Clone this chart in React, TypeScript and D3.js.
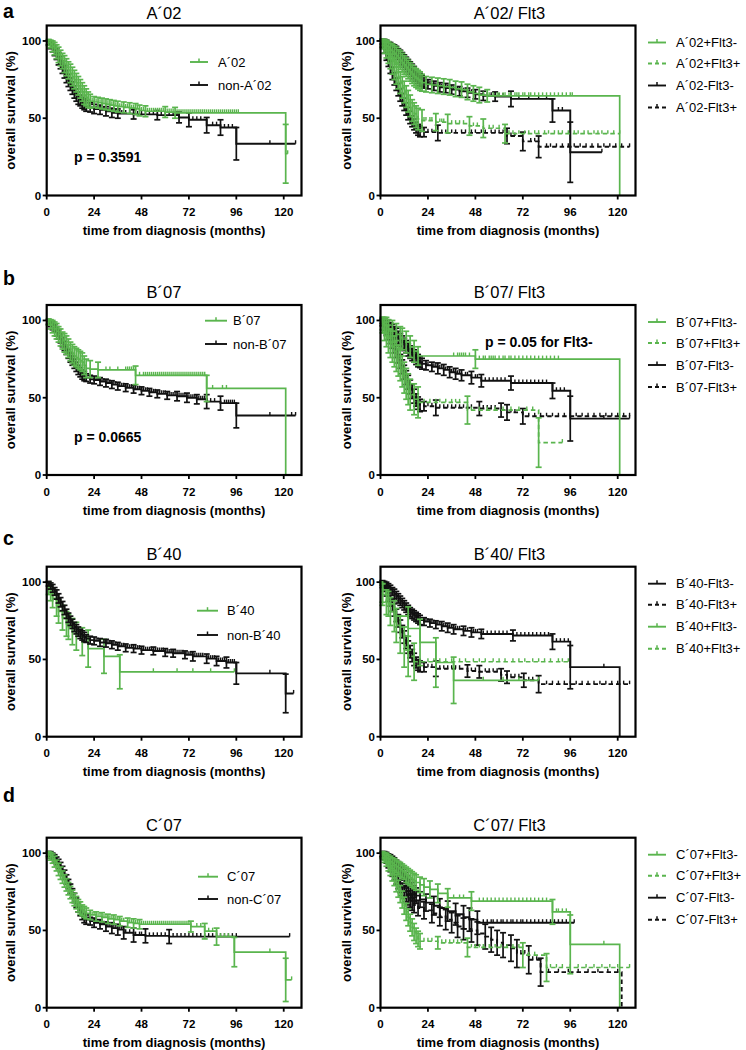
import React from 'react';
import * as d3 from 'd3';

const GREEN = '#5ab54e';
const BLACK = '#111111';
const FONT = '"Liberation Sans", Arial, Helvetica, sans-serif';

const Y_TICKS = [0, 50, 100];
const X_TICKS = [0, 24, 48, 72, 96, 120];

type Pt = [number, number, number]; // [month, survival %, error half-width]

// ---------- Panel a: A´02 ----------
const a02_pts: Pt[] = [[1,99,2],[2,98,2.5],[3,96.5,3.5],[4,95,4],[5,93,4.5],[6,91,5],[7,89,5],[8,87,5],[9,85,5.5],[10,83,5.5],[11,81,5.5],[12,79,6],[13,77,6],[14,75,6],[15,73,6],[16,71,6],[17,69,6],[18,67,6],[19,65,6],[20,63.5,5.5],[21,62,5],[22,61,4.5],[24,60.5,3.5],[26,60,3.5],[28,59.5,3.5],[30,59,3.5],[32,58.5,3.5],[34,58,3.5],[36,57.5,3.5],[39,57,3.5],[42,56.5,3.5],[45,56,3.5],[47,55,3.5],[50,54.5,3.5],[60,54,3.5],[65,53.5,3.5],[121,27,19]];
const a02_cens = [23,25,27,29,31,33,35,37,38,40,41,43,44,46,48,49,51,52,53,54,55,56,57,58,59,61,62,63,64,66,67,68,69,70,71,72,73,74,75,76,77,78,79,80,81,82,83,84,85,86,87,88,89,90,91,92,93,94,95,96,97,122];
const a02_end = 122;
const nonA02_pts: Pt[] = [[1,99,1.5],[2,97.5,2.5],[3,96,3],[4,94,3.5],[5,91.5,3.5],[6,88.5,4],[7,86,4],[8,83,4],[9,80,4],[10,77,4],[11,74.5,4],[12,72,4],[13,69.5,4],[14,67,4],[15,65,4],[16,63,4],[17,61.5,3.5],[18,60,3.5],[19,59,3.5],[20,58,3.5],[22,57,3],[24,56,3],[27,55.5,3],[30,54.5,3],[33,53.5,3],[36,53,3],[44,52.5,3],[56,52,3],[67,50.5,3.5],[72,49,4.5],[81,45.5,5],[88,44,5],[96,33.5,10.5]];
const nonA02_cens = [25,26,28,29,31,32,34,35,37,38,40,42,46,48,50,52,54,58,60,62,64,66,74,76,78,84,86,90,92,94,113,126];
const nonA02_end = 126;

const a02pF3n_pts: Pt[] = [[1,99,2],[2,98,3],[3,97,3.5],[4,95.5,4],[5,94,4.5],[6,93,5],[7,92,5],[8,90.5,5.5],[9,89,5.5],[10,87.5,6],[11,86,6],[12,84.5,6],[13,83,6],[14,81.5,6],[15,80,6],[16,78.5,6],[17,77,6],[18,76,6],[19,75,6],[20,74,6],[21,73,5.5],[23,72,5],[26,71.5,5],[29,71,5],[32,70.5,5],[35,70,5],[38,69,5],[41,68.5,5],[44,67,5],[47,66,5],[50,65,5],[54,64.5,4],[121,0,0]];
const a02pF3n_cens = [52,55,57,59,60,62,63,65,66,68,69,70,72,73,75,76,78,80,82,84,86,88,90,92,94,96,97];
const a02pF3n_end = 121;
const a02pF3p_pts: Pt[] = [[1,98,3],[2,96,4],[3,94,5],[4,91,5.5],[5,88,6],[6,85,6.5],[7,82,7],[8,79,7],[9,76,7],[10,73,7],[11,70,7],[12,67,7],[13,64,7],[14,61,7],[15,58,7],[16,55,7],[17,53,7],[18,51,7],[19,49.5,7],[21,48.5,7],[28,47.5,5.5],[34,46.5,6],[45,45,6],[52,43.5,6],[63,40,6]];
const a02pF3p_cens = [22,23,25,26,30,31,32,36,38,40,42,47,49,55,57,60,65,67,70,73,75,78,80,83,85,88,90,92,95,98,100,103,105,108,110,112,115,118,121];
const a02pF3p_end = 121;
const a02mF3n_pts: Pt[] = [[1,99.5,1.5],[2,99,2],[3,98,2.5],[4,97,2.5],[5,96,3],[6,95,3],[7,94,3.5],[8,93,3.5],[9,91.5,3.5],[10,90,4],[11,88.5,4],[12,87,4],[13,85.5,4],[14,84,4],[15,82.5,4],[16,81,4],[17,79.5,4],[18,78,4],[19,76.5,4],[20,75,4],[21,74,3.5],[22,73,3.5],[24,72,3],[27,71,3],[30,70,3],[33,69.5,3],[36,68.5,3],[40,67.5,3],[44,66.5,3],[48,65.5,3],[52,64.5,3],[58,64,3],[66,62.5,5],[87,55,7.5],[96,28,19.5]];
const a02mF3n_cens = [25,28,31,34,37,39,42,45,46,50,54,56,60,62,70,75,80,84,90,92,112];
const a02mF3n_end = 112;
const a02mF3p_pts: Pt[] = [[1,98,2],[2,95,3],[3,91,3.5],[4,87,3.5],[5,83,4],[6,79,4],[7,75.5,4],[8,72,4],[9,68.5,4],[10,65,4],[11,62,4],[12,59,4],[13,56,4],[14,53,4],[15,50.5,4],[16,48,3.5],[17,46,3.5],[18,44,3.5],[19,42.5,3.5],[20,41.5,3.5],[22,41,3],[29,40.5,5],[64,38.5,5],[72,35,6],[80,31.5,7]];
const a02mF3p_cens = [24,26,31,33,36,38,41,43,46,48,51,53,56,58,60,62,66,68,76,78,84,86,89,92,95,98,101,104,107,110,113,116,119,122,126];
const a02mF3p_end = 126;

// ---------- Panel b: B´07 ----------
const b07_pts: Pt[] = [[1,99,2],[2,97.5,3],[3,96,4],[4,94.5,4.5],[5,93,5],[6,91,5],[7,89,5.5],[8,87,5.5],[9,85.5,6],[10,84,6],[11,82,6],[12,80,6],[13,78.5,6],[14,77,6],[15,76,6],[16,75,6],[17,74,6],[18,73,6],[19,71,6],[20,69,6],[22,68.5,5.5],[26,68,5],[45,64.5,6],[81,56,8.5],[121,0,0]];
const b07_cens = [30,32,36,40,41,42,43,44,47,49,50,51,52,53,54,55,56,57,58,59,60,61,62,63,64,65,66,67,68,69,70,71,72,73,74,75,76,77,78,79,80,84,89,91];
const b07_end = 121;
const nonB07_pts: Pt[] = [[1,99,1.5],[2,98,2],[3,96.5,2.5],[4,95,2.5],[5,93,3],[6,91,3],[7,88.5,3],[8,86,3],[9,83.5,3],[10,81,3],[11,78.5,3],[12,76,3],[13,74,3],[14,72,3],[15,70,3],[16,68,3],[17,66.5,3],[18,65,3],[19,64,3],[20,63,2.5],[22,62,2.5],[24,61.5,2.5],[27,60.5,2.5],[30,59.5,2.5],[33,58.5,2.5],[36,57.5,2.5],[40,56.5,2.5],[44,55.5,2.5],[48,54.5,2.5],[52,53.5,2.5],[56,52.5,2.5],[61,51.5,2.5],[66,51,3],[71,50,3],[76,49,3],[81,47.5,4.5],[88,46.5,4.5],[96,38.5,8]];
const nonB07_cens = [25,26,28,29,31,32,34,35,37,38,39,41,42,43,45,46,47,49,50,51,53,54,55,57,58,59,60,62,63,64,65,67,68,69,70,72,73,74,75,77,78,79,80,83,85,90,91,92,93,94,95,113,124,126];
const nonB07_end = 126;

const b07pF3n_pts: Pt[] = [[1,98,4],[2,97,5],[3,96,6],[4,94.5,6],[6,93,7],[8,91,7],[10,89,7],[11,88,7],[13,86,7],[15,83,7],[17,80,7],[19,77,6],[48,75,6],[121,0,0]];
const b07pF3n_cens = [37,39,40,41,42,43,45,50,52,53,55,56,57,58,60,62,63,65,66,68,70,72,74,76,78,80,82,84,86,88,90];
const b07pF3n_end = 121;
const b07pF3p_pts: Pt[] = [[1,97,5],[2,94,7],[3,91,8],[4,88,9],[5,85,9],[6,83,10],[7,80,10],[8,77,10],[9,74,10],[10,71,10],[11,67,10],[12,63,10],[13,59,10],[14,55.5,10],[15,52,10],[17,49,10],[19,47,10],[44,42,9],[80,21,16]];
const b07pF3p_cens = [22,25,28,30,33,36,38,40,46,50,54,58,62,66,70,74,77,92];
const b07pF3p_end = 92;
const b07mF3n_pts: Pt[] = [[1,99.5,1.5],[2,99,2],[3,98,2.5],[4,97,3],[5,95.5,3],[6,94,3.5],[7,92.5,3.5],[8,91,4],[9,89,4],[10,87.5,4],[11,86,4],[12,84.5,4],[13,83,4],[14,81,4],[15,79.5,4],[16,78,4],[17,77,4],[18,75.5,4],[19,74,4],[20,73,3.5],[21,72,3.5],[23,71,3],[26,70,3],[29,69,3.5],[32,68,3.5],[35,66.5,3.5],[38,65.5,3.5],[41,64.5,3.5],[46,63,4],[51,61,4],[66,59.5,4.5],[87,54.5,5],[96,36.5,14.5]];
const b07mF3n_cens = [24,27,28,30,31,33,34,36,37,39,40,43,44,48,49,53,55,57,59,61,63,68,70,72,74,76,78,80,82,84,89,91,93,113,126];
const b07mF3n_end = 126;
const b07mF3p_pts: Pt[] = [[1,98.5,2],[2,96.5,3],[3,94,3.5],[4,91.5,4],[5,89,4],[6,86.5,4.5],[7,83.5,4.5],[8,80.5,4.5],[9,77,4.5],[10,73.5,4.5],[11,70,4.5],[12,66.5,4.5],[13,63,4.5],[14,60,4.5],[15,57,4.5],[16,54,4.5],[17,51,4.5],[18,48.5,4],[19,46.5,4],[20,45,4],[22,44.5,3],[28,43.5,5],[50,43,4.5],[61,42,4.5],[64,40.5,5],[72,38,5]];
const b07mF3p_cens = [24,26,30,32,34,36,38,40,42,44,46,52,54,56,58,66,68,75,78,81,84,87,90,93,96,99,102,105,108,111,114,117,120,123,126];
const b07mF3p_end = 126;

// ---------- Panel c: B´40 ----------
const b40_pts: Pt[] = [[1,96,4],[2,93,5],[3,89.5,6],[5,85,7],[6,81,7.5],[8,77,8],[10,73,8],[11,71,8],[13,68,8.5],[15,65,9],[18,61.5,9],[21,57,12],[29,52,11],[37,42,11]];
const b40_cens = [54,66,74,83,95];
const b40_end = 95;
const nonB40_pts: Pt[] = [[1,99,1.5],[2,97.5,2],[3,96,2.5],[4,94,2.5],[5,92,3],[6,89.5,3],[7,87,3],[8,84.5,3],[9,82,3],[10,79.5,3],[11,77,3],[12,75,3],[13,73,3],[14,71,3],[15,69.5,3],[16,68,3],[17,66.5,3],[18,65.5,3],[19,64.5,3],[20,63.5,2.5],[22,62.5,2.5],[24,62,2.5],[27,61,2.5],[30,60.5,2.5],[33,59.5,2.5],[36,58.5,2.5],[40,57.5,2.5],[44,57,2.5],[48,56,2.5],[54,55.5,2.5],[60,54.5,2.5],[64,54,2.5],[70,53,2.5],[74,52,3],[81,50.5,3],[86,49,3],[91,48,3.5],[96,41,7],[121,28,12.5]];
const nonB40_cens = [25,26,27,29,30,31,32,34,35,37,38,39,41,42,43,45,46,47,49,50,51,52,53,55,56,57,58,59,61,62,63,65,66,67,68,69,71,72,73,75,76,77,78,79,82,83,84,85,87,88,89,90,92,93,94,95,113,125];
const nonB40_end = 125;

const b40mF3n_pts: Pt[] = [[1,99.5,1.5],[2,99,1.5],[3,98,2],[4,97,2],[5,95.5,2.5],[6,94,2.5],[7,92.5,3],[8,91,3],[9,89.5,3],[10,88,3],[11,86.5,3],[12,85,3],[13,83.5,3],[14,82,3],[15,80.5,3],[16,79.5,3],[17,78.5,3],[18,77.5,3],[19,76.5,3],[20,75.5,3],[22,74.5,2.5],[25,73.5,2.5],[28,72.5,2.5],[31,71.5,3],[34,70.5,3],[37,69.5,3],[42,68.5,3],[46,67.5,3],[51,66.5,3],[67,65.5,3.5],[87,61.5,5],[96,45,14],[121,0,0]];
const b40mF3n_cens = [23,24,26,27,29,30,32,33,35,36,38,39,40,43,44,47,48,49,52,54,56,58,60,62,64,69,71,73,75,77,79,81,83,85,89,91,93,95,113];
const b40mF3n_end = 121;
const b40mF3p_pts: Pt[] = [[1,98.5,2],[2,96.5,2.5],[3,94,3],[4,91,3.5],[5,88,3.5],[6,85,4],[7,82,4],[8,78.5,4],[9,75,4],[10,71.5,4],[11,68,4],[12,64.5,4],[13,61,4],[14,58,4],[15,55,4],[16,52.5,4],[17,50,4],[18,48,3.5],[19,46.5,3.5],[20,45.5,3.5],[22,45,3],[28,44,5],[44,42.5,4],[50,42,4],[61,40,4],[64,38.5,4],[72.5,36.5,4.5],[80,34,5.5]];
const b40mF3p_cens = [24,26,30,32,34,36,38,40,46,48,53,55,57,59,66,68,70,75,77,84,87,90,93,96,99,102,105,108,111,114,117,120,123,126];
const b40mF3p_end = 126;
const b40pF3n_pts: Pt[] = [[1,92,7],[4,86,8],[7,78,10],[14,70,14],[20,61,15],[28,48,16],[37,36.5,15]];
const b40pF3n_cens = [52,62,70,80];
const b40pF3n_end = 80;
const b40pF3p_pts: Pt[] = [[1,93,6],[3,87,8],[5,81,9],[8,72,11],[10,66,12],[12,58,13],[14,52,13],[17,48.5,12]];
const b40pF3p_cens = [24,27,30,33,36,40,43,47,50,53,57,60,63,67,70,73,77,80,83,86,90,92,95];
const b40pF3p_end = 95;

// ---------- Panel d: C´07 ----------
const c07_pts: Pt[] = [[1,99,2],[2,98,2.5],[3,96.5,3],[4,94.5,3.5],[5,92,3.5],[6,89.5,4],[7,87,4],[8,84.5,4],[9,82,4],[10,79.5,4],[11,77,4],[12,74.5,4],[13,72,4],[14,70,4],[15,68,4],[16,66,4],[17,64.5,4],[18,63,3.5],[19,62,3.5],[20,61,3.5],[22,60,3],[25,59,3],[28,58.5,3],[31,57.5,3],[34,57,3],[37,56,3],[41,55,3],[44,54.5,3],[47,54,3],[73,52.5,3.5],[80,49.5,5],[86,46,5.5],[95,36,9.5],[121,18,14]];
const c07_cens = [23,24,26,27,29,30,32,33,35,36,38,39,42,43,45,46,48,49,50,51,52,53,54,55,56,57,58,59,60,61,62,63,64,65,66,67,68,69,70,71,72,76,78,82,84,88,90,92,113,124];
const c07_end = 124;
const nonC07_pts: Pt[] = [[1,99.5,1.5],[2,99,2],[3,98,2],[4,96.5,2.5],[5,95,2.5],[6,93,3],[7,91,3],[8,88.5,3],[9,86,3],[10,83,3],[11,80,3],[12,77,3],[13,74,3],[14,71,3],[15,68,3],[16,65,3],[17,62.5,3],[18,60,3],[19,58,3],[20,57,3],[22,56,2.5],[24,55,3],[27,54,3],[30,52.5,3],[33,51.5,3.5],[36,50.5,3.5],[39,48.5,4],[44,47,4.5],[50,46.5,4.5],[62,46,4.5]];
const nonC07_cens = [25,26,28,29,31,32,34,35,37,38,40,42,45,47,48,52,54,56,58,60,64,66,68,70,72,74,76,78,80,82,84,86,88,90,92,94,96,123];
const nonC07_end = 123;

const c07pF3n_pts: Pt[] = [[1,99,2],[2,98,2.5],[3,97,3],[4,96,3],[5,94.5,3.5],[6,93.5,3.5],[7,92.5,4],[8,91.5,4],[9,90.5,4],[10,89.5,4.5],[11,88.5,4.5],[12,87.5,4.5],[13,86,5],[14,85,5],[15,84,5],[16,83,5],[17,82,5],[18,81,5],[20,79.5,5],[22,78,5.5],[25,76.5,5.5],[29,74,6],[34,71,6],[46,69,6],[87,62,8],[96,41,19],[121,0,0]];
const c07pF3n_cens = [37,40,42,50,52,54,56,58,60,62,64,66,68,70,72,74,76,78,80,82,84,89,90,92,94,113];
const c07pF3n_end = 121;
const c07pF3p_pts: Pt[] = [[1,98.5,2],[2,97,3],[3,95,3.5],[4,92.5,4],[5,90,4.5],[6,87,5],[7,84,5],[8,80.5,5.5],[9,77,5.5],[10,73.5,5.5],[11,70,5.5],[12,66,5.5],[13,62,5.5],[14,58.5,5.5],[15,55,5.5],[16,52,5.5],[17,49,5.5],[18,46.5,5],[19,44.5,5],[20,43,5],[29,42,4],[44,39,6],[72,34,8],[84,26,9]];
const c07pF3p_cens = [22,24,26,31,33,35,37,39,41,46,48,50,52,55,58,61,64,67,70,75,78,86,89,92,96,100,104,108,112,116,120,126];
const c07pF3p_end = 126;
const c07mF3n_pts: Pt[] = [[1,99.5,1.5],[2,99,2],[3,98,2.5],[4,97,2.5],[5,96,3],[6,95,3],[7,93.5,3.5],[8,92,3.5],[9,90.5,4],[10,89,4],[11,87,4],[12,85,4.5],[13,83,4.5],[14,80.5,5],[15,78,5],[16,76,5],[17,74,5],[18,72.5,5],[20,70,5],[23,68,5.5],[27,66,6],[30,64.5,6],[34,62.5,6.5],[38,60.5,7],[42,58.5,7.5],[45,57,7.5],[49,55,7.5]];
const c07mF3n_cens = [52,54,56,57,59,61,62,64,66,67,69,71,72,74,76,78,80,82,84,86,88,90,92,94,96,98];
const c07mF3n_end = 98;
const c07mF3p_pts: Pt[] = [[1,99,1.5],[2,98,2],[3,96,2.5],[4,93.5,3],[5,91,3],[6,88.5,3.5],[7,86,3.5],[8,83.5,3.5],[9,81,4],[10,78.5,4],[11,76.5,4],[12,75,4],[13,73,4.5],[14,71,4.5],[15,69.5,4.5],[16,68,5],[17,66.5,5],[19,64.5,5],[22,63,5.5],[26,61,6],[30,59,6],[33,57,6.5],[36,55,6.5],[39,52.5,7],[42,51,7],[46,50,7.5],[49,48,7.5],[53,46,8],[56,44,8],[59,42,8],[62,40.5,8],[66,38.5,8.5],[69,35,9],[75,31,9],[81,23,9],[122,0,0]];
const c07mF3p_cens = [71,73,77,79,85,90,95,100,105,110,115,120];
const c07mF3p_end = 122;

// ---------- layout ----------
const COLS = [{ x0: 46.7, x1: 301.5, titleX: 164, yTitleX: 10 }, { x0: 380.5, x1: 635.5, titleX: 509.5, yTitleX: 346 }];
const ROWS = [195.5, 475, 736.7, 1007.7];
const FRAME_H = 170;

interface S { label: string; pts: Pt[]; cens: number[]; end: number; color: string; dashed: boolean }
const mk = (label: string, pts: Pt[], cens: number[], end: number, color: string, dashed: boolean): S => ({ label, pts, cens, end, color, dashed });

interface PanelCfg {
  col: number; row: number; title: string; letter?: string; letterY?: number;
  draw: S[]; legend: S[]; leg: { x0: number; x1: number; tx: number; ys: number[] };
  p?: { text: string; x: number; y: number };
}

const rightLeg = (row: number) => {
  const top = ROWS[row] - FRAME_H;
  return { x0: 648, x1: 666, tx: 676, ys: [17, 38, 60, 82].map(d => top + d) };
};

const sA = mk('A´02', a02_pts, a02_cens, a02_end, GREEN, false);
const sNA = mk('non-A´02', nonA02_pts, nonA02_cens, nonA02_end, BLACK, false);
const sA1 = mk('A´02+Flt3-', a02pF3n_pts, a02pF3n_cens, a02pF3n_end, GREEN, false);
const sA2 = mk('A´02+Flt3+', a02pF3p_pts, a02pF3p_cens, a02pF3p_end, GREEN, true);
const sA3 = mk('A´02-Flt3-', a02mF3n_pts, a02mF3n_cens, a02mF3n_end, BLACK, false);
const sA4 = mk('A´02-Flt3+', a02mF3p_pts, a02mF3p_cens, a02mF3p_end, BLACK, true);

const sB = mk('B´07', b07_pts, b07_cens, b07_end, GREEN, false);
const sNB = mk('non-B´07', nonB07_pts, nonB07_cens, nonB07_end, BLACK, false);
const sB1 = mk('B´07+Flt3-', b07pF3n_pts, b07pF3n_cens, b07pF3n_end, GREEN, false);
const sB2 = mk('B´07+Flt3+', b07pF3p_pts, b07pF3p_cens, b07pF3p_end, GREEN, true);
const sB3 = mk('B´07-Flt3-', b07mF3n_pts, b07mF3n_cens, b07mF3n_end, BLACK, false);
const sB4 = mk('B´07-Flt3+', b07mF3p_pts, b07mF3p_cens, b07mF3p_end, BLACK, true);

const sC = mk('B´40', b40_pts, b40_cens, b40_end, GREEN, false);
const sNC = mk('non-B´40', nonB40_pts, nonB40_cens, nonB40_end, BLACK, false);
const sC1 = mk('B´40-Flt3-', b40mF3n_pts, b40mF3n_cens, b40mF3n_end, BLACK, false);
const sC2 = mk('B´40-Flt3+', b40mF3p_pts, b40mF3p_cens, b40mF3p_end, BLACK, true);
const sC3 = mk('B´40+Flt3-', b40pF3n_pts, b40pF3n_cens, b40pF3n_end, GREEN, false);
const sC4 = mk('B´40+Flt3+', b40pF3p_pts, b40pF3p_cens, b40pF3p_end, GREEN, true);

const sD = mk('C´07', c07_pts, c07_cens, c07_end, GREEN, false);
const sND = mk('non-C´07', nonC07_pts, nonC07_cens, nonC07_end, BLACK, false);
const sD1 = mk('C´07+Flt3-', c07pF3n_pts, c07pF3n_cens, c07pF3n_end, GREEN, false);
const sD2 = mk('C´07+Flt3+', c07pF3p_pts, c07pF3p_cens, c07pF3p_end, GREEN, true);
const sD3 = mk('C´07-Flt3-', c07mF3n_pts, c07mF3n_cens, c07mF3n_end, BLACK, false);
const sD4 = mk('C´07-Flt3+', c07mF3p_pts, c07mF3p_cens, c07mF3p_end, BLACK, true);

const PANELS: PanelCfg[] = [
  { col: 0, row: 0, title: 'A´02', letter: 'a', letterY: 18, draw: [sNA, sA], legend: [sA, sNA], leg: { x0: 190, x1: 208, tx: 218, ys: [62, 85] }, p: { text: 'p = 0.3591', x: 74, y: 162 } },
  { col: 1, row: 0, title: 'A´02/ Flt3', draw: [sA3, sA4, sA1, sA2], legend: [sA1, sA2, sA3, sA4], leg: rightLeg(0) },
  { col: 0, row: 1, title: 'B´07', letter: 'b', letterY: 285, draw: [sNB, sB], legend: [sB, sNB], leg: { x0: 205, x1: 227, tx: 233, ys: [320.7, 344] }, p: { text: 'p = 0.0665', x: 74, y: 442 } },
  { col: 1, row: 1, title: 'B´07/ Flt3', draw: [sB3, sB4, sB1, sB2], legend: [sB1, sB2, sB3, sB4], leg: rightLeg(1), p: { text: 'p = 0.05 for Flt3-', x: 485, y: 347 } },
  { col: 0, row: 2, title: 'B´40', letter: 'c', letterY: 545, draw: [sC, sNC], legend: [sC, sNC], leg: { x0: 197, x1: 218, tx: 227, ys: [610.7, 635] } },
  { col: 1, row: 2, title: 'B´40/ Flt3', draw: [sC1, sC2, sC3, sC4], legend: [sC1, sC2, sC3, sC4], leg: rightLeg(2) },
  { col: 0, row: 3, title: 'C´07', letter: 'd', letterY: 802, draw: [sND, sD], legend: [sD, sND], leg: { x0: 198, x1: 218, tx: 227, ys: [876.7, 899] } },
  { col: 1, row: 3, title: 'C´07/ Flt3', draw: [sD3, sD4, sD1, sD2], legend: [sD1, sD2, sD3, sD4], leg: rightLeg(3) },
];

function survAt(pts: Pt[], t: number) {
  let s = 100;
  for (const p of pts) { if (p[0] <= t) s = p[1]; else break; }
  return s;
}

const DASH = '4.5,3';

function SeriesMarks({ s, x, y }: { s: S; x: d3.ScaleLinear<number, number>; y: d3.ScaleLinear<number, number> }) {
  const last = s.pts.length ? s.pts[s.pts.length - 1][1] : 100;
  const pts: [number, number][] = [[0, 100], ...s.pts.map(p => [p[0], p[1]] as [number, number]), [s.end, last]];
  const line = d3.line<[number, number]>().x(d => x(d[0])).y(d => y(d[1])).curve(d3.curveStepAfter);
  const cap = 3;
  const w = s.color === BLACK ? 1.9 : 1.7;
  return (
    <g>
      <path d={line(pts) || ''} fill="none" stroke={s.color} strokeWidth={w} strokeDasharray={s.dashed ? DASH : undefined} />
      {s.pts.filter(p => p[2] > 0).map((p, i) => {
        const xx = x(p[0]);
        const lo = y(Math.max(0, p[1] - p[2]));
        const hi = y(Math.min(110, p[1] + p[2]));
        return (
          <g key={'e' + i} stroke={s.color} strokeWidth={1.7}>
            <line x1={xx} x2={xx} y1={lo} y2={hi} />
            <line x1={xx - cap} x2={xx + cap} y1={lo} y2={lo} />
            <line x1={xx - cap} x2={xx + cap} y1={hi} y2={hi} />
          </g>
        );
      })}
      {s.cens.map((t, i) => {
        const yy = y(survAt(s.pts, t));
        return <line key={'c' + i} x1={x(t)} x2={x(t)} y1={yy} y2={yy - 3.5} stroke={s.color} strokeWidth={1.4} />;
      })}
    </g>
  );
}

function Panel({ cfg }: { cfg: PanelCfg }) {
  const c = COLS[cfg.col];
  const y0 = ROWS[cfg.row];
  const x = d3.scaleLinear().domain([0, 129]).range([c.x0, c.x1]);
  const y = d3.scaleLinear().domain([0, 110]).range([y0, y0 - FRAME_H]);
  const top = y0 - FRAME_H;
  const midY = (y0 + top) / 2;
  return (
    <g>
      {cfg.letter && <text x={3} y={cfg.letterY} fontSize={19.5} fontWeight="bold" fontFamily={FONT}>{cfg.letter}</text>}
      <text x={c.titleX} y={top - 7} fontSize={16.5} textAnchor="middle" fontFamily={FONT}>{cfg.title}</text>
      {cfg.draw.map((s, i) => <SeriesMarks key={i} s={s} x={x} y={y} />)}
      <rect x={c.x0} y={top} width={c.x1 - c.x0} height={FRAME_H} fill="none" stroke="#000" strokeWidth={2.2} />
      {Y_TICKS.map(v => (
        <g key={'y' + v}>
          <line x1={c.x0 - 4} x2={c.x0} y1={y(v)} y2={y(v)} stroke="#000" strokeWidth={1.8} />
          <text x={c.x0 - 5.5} y={y(v) + 4} fontSize={11.5} fontWeight="bold" textAnchor="end" fontFamily={FONT}>{v}</text>
        </g>
      ))}
      {X_TICKS.map(v => (
        <g key={'x' + v}>
          <line x1={x(v)} x2={x(v)} y1={y0} y2={y0 + 4} stroke="#000" strokeWidth={1.8} />
          <text x={x(v)} y={y0 + 20.5} fontSize={11.5} fontWeight="bold" textAnchor="middle" fontFamily={FONT}>{v}</text>
        </g>
      ))}
      <text x={(c.x0 + c.x1) / 2} y={y0 + 39.5} fontSize={13} fontWeight="bold" textAnchor="middle" fontFamily={FONT}>time from diagnosis (months)</text>
      <text transform={`translate(${c.yTitleX},${midY}) rotate(-90)`} fontSize={13} fontWeight="bold" textAnchor="middle" dominantBaseline="central" fontFamily={FONT}>overall survival (%)</text>
      {cfg.legend.map((s, i) => {
        const ly = cfg.leg.ys[i];
        const mx = (cfg.leg.x0 + cfg.leg.x1) / 2;
        return (
          <g key={'l' + i}>
            <line x1={cfg.leg.x0} x2={cfg.leg.x1} y1={ly} y2={ly} stroke={s.color} strokeWidth={1.9} strokeDasharray={s.dashed ? '4,3' : undefined} />
            <line x1={mx} x2={mx} y1={ly} y2={ly - 3.5} stroke={s.color} strokeWidth={1.5} />
            <text x={cfg.leg.tx} y={ly + 4.6} fontSize={13} fontFamily={FONT}>{s.label}</text>
          </g>
        );
      })}
      {cfg.p && <text x={cfg.p.x} y={cfg.p.y} fontSize={14} fontWeight="bold" fontFamily={FONT}>{cfg.p.text}</text>}
    </g>
  );
}

export default function App() {
  return (
    <svg width={746} height={1050} viewBox="0 0 746 1050" style={{ position: 'absolute', left: 0, top: 0, background: '#fff' }}>
      <rect x={0} y={0} width={746} height={1050} fill="#fff" />
      {PANELS.map((p, i) => <Panel key={i} cfg={p} />)}
    </svg>
  );
}
